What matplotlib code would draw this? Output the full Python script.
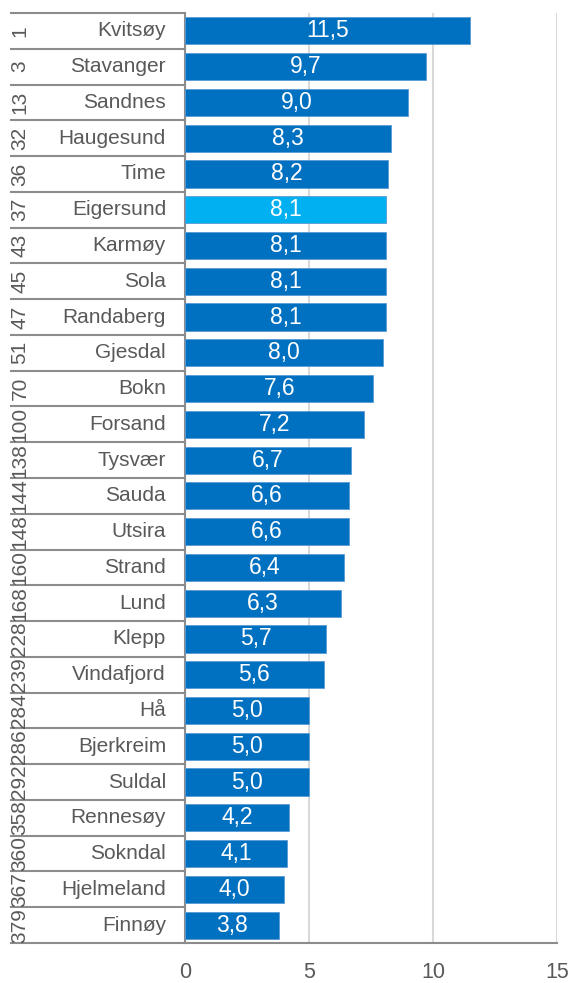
import matplotlib
matplotlib.use("Agg")
import matplotlib.pyplot as plt

plt.rcParams['font.family'] = ['Liberation Sans', 'DejaVu Sans']

ranks = [1, 3, 13, 32, 36, 37, 43, 45, 47, 51, 70, 100, 138, 144, 148,
         160, 168, 228, 239, 284, 286, 292, 358, 360, 367, 379]
names = ["Kvitsøy", "Stavanger", "Sandnes", "Haugesund", "Time", "Eigersund",
         "Karmøy", "Sola", "Randaberg", "Gjesdal", "Bokn", "Forsand", "Tysvær",
         "Sauda", "Utsira", "Strand", "Lund", "Klepp", "Vindafjord", "Hå",
         "Bjerkreim", "Suldal", "Rennesøy", "Sokndal", "Hjelmeland", "Finnøy"]
values = [11.5, 9.7, 9.0, 8.3, 8.2, 8.1, 8.1, 8.1, 8.1, 8.0, 7.6, 7.2, 6.7,
          6.6, 6.6, 6.4, 6.3, 5.7, 5.6, 5.0, 5.0, 5.0, 4.2, 4.1, 4.0, 3.8]
highlight = "Eigersund"
x_ticks = [0, 5, 10, 15]

W, H = 572, 983
fig = plt.figure(figsize=(W / 100, H / 100), dpi=100)
ax_left, ax_right, ax_top, ax_bottom = 185, 557, 13, 943
ax = fig.add_axes([ax_left / W, 1 - ax_bottom / H,
                   (ax_right - ax_left) / W, (ax_bottom - ax_top) / H])

blue = "#0070C0"
light = "#00B0F0"
line_grey = "#8C8C8C"
text_grey = "#595959"

n = len(names)
ypos = list(range(n))
colors = [light if nm == highlight else blue for nm in names]
ax.barh(ypos, values, height=0.76, color=colors, edgecolor="#5B9BD5",
        linewidth=0.6, zorder=3)

for y, v in zip(ypos, values):
    ax.text(v / 2, y, f"{v:.1f}".replace(".", ","), ha="center", va="center",
            color="white", fontsize=16.5, zorder=4)

ax.set_xlim(0, 15)
ax.set_ylim(n - 0.5, -0.5)
ax.set_xticks(x_ticks)
ax.set_xticklabels([str(t) for t in x_ticks], fontsize=15.5, color=text_grey)
ax.tick_params(axis="x", length=0, pad=14)
ax.set_yticks([])
ax.grid(axis="x", color="#D9D9D9", linewidth=1.5, zorder=0)
ax.set_axisbelow(True)

for side in ["top", "right"]:
    ax.spines[side].set_visible(False)
ax.spines["left"].set_color(line_grey)
ax.spines["left"].set_linewidth(1.5)
ax.spines["bottom"].set_color(line_grey)
ax.spines["bottom"].set_linewidth(1.5)

# label table on the left: rank column, name column, row separators
tr = ax.get_yaxis_transform()
px = ax_right - ax_left
table_left = (11 - ax_left) / px
rank_x = (20 - ax_left) / px
name_x = (166 - ax_left) / px

for k in range(n + 1):
    ax.plot([table_left, 0], [k - 0.5, k - 0.5], transform=tr, color=line_grey,
            linewidth=1.5, clip_on=False, zorder=2)

for y, r, nm in zip(ypos, ranks, names):
    ax.text(rank_x, y, str(r), transform=tr, rotation=90, ha="center",
            va="center", fontsize=15, color=text_grey, clip_on=False)
    ax.text(name_x, y, nm, transform=tr, ha="right", va="center",
            fontsize=15, color=text_grey, clip_on=False)

fig.savefig("out.png", dpi=100)
